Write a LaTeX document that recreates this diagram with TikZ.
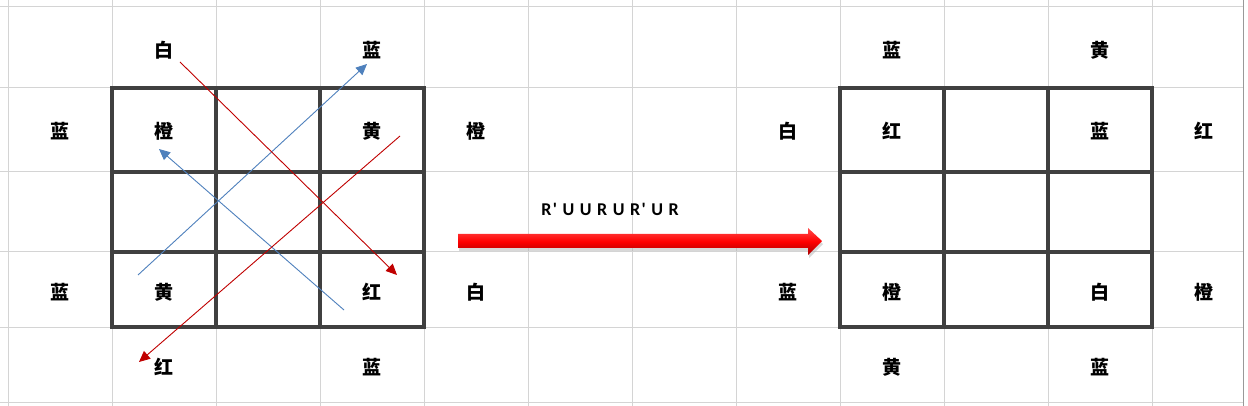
\documentclass[tikz,border=0pt]{standalone}
\usepackage{fontspec}
\usepackage{tikz}
\usetikzlibrary{arrows.meta}
\usetikzlibrary{shadings}
\newfontfamily\cjk{Noto Sans CJK SC}
\newfontfamily\movefont{Carlito}[LetterSpace=8]
\definecolor{sheetgray}{HTML}{D4D4D4}
\definecolor{cellgray}{HTML}{404040}
\definecolor{turnred}{HTML}{C00000}
\definecolor{turnblue}{HTML}{4F81BD}
\tikzset{
  face/.style={font=\cjk\bfseries\fontsize{19}{19}\selectfont, inner sep=0pt},
  sheet/.style={sheetgray, line width=1},
  cube/.style={cellgray, line width=3.2},
  redturn/.style={turnred, line width=0.9, -{Triangle[length=11,width=10]}},
  blueturn/.style={turnblue, line width=0.9, -{Triangle[length=11,width=10]}}
}

\begin{document}
\begin{tikzpicture}[x=1pt,y=-1pt]
\useasboundingbox (0,0) rectangle (1248,406);
\fill[white] (0,0) rectangle (1248,406);

% spreadsheet lines
\foreach \y in {7,88,172,252,327,402}
  \draw[sheet] (0,\y) -- (1243,\y);
\foreach \x in {8,112,216,320,424,528,632,736,840,944,1048,1152}
  \draw[sheet] (\x,0) -- (\x,406);
\draw[gray!80, line width=1] (1243,0) -- (1243,406);

% the two faces
\draw[cube] (112,88) rectangle (424,327);
\draw[cube] (216,88) -- (216,327) (320,88) -- (320,327);
\draw[cube] (112,172) -- (424,172) (112,252) -- (424,252);
\draw[cube] (840,88) rectangle (1152,327);
\draw[cube] (944,88) -- (944,327) (1048,88) -- (1048,327);
\draw[cube] (840,172) -- (1152,172) (840,252) -- (1152,252);

% before
\node[face] (btopl) at (164,50) {白};
\node[face] (btopr) at (372,50) {蓝};
\node[face] (bleftu) at (60,131) {蓝};
\node[face] (bleftd) at (60,292) {蓝};
\node[face] (bul) at (164,131) {橙};
\node[face] (bur) at (372,131) {黄};
\node[face] (bdl) at (164,292) {黄};
\node[face] (bdr) at (372,292) {红};
\node[face] (brightu) at (476,131) {橙};
\node[face] (brightd) at (476,292) {白};
\node[face] (bbotl) at (164,367) {红};
\node[face] (bbotr) at (372,367) {蓝};

% after
\node[face] (atopl) at (892,50) {蓝};
\node[face] (atopr) at (1100,50) {黄};
\node[face] (aleftu) at (788,131) {白};
\node[face] (aleftd) at (788,292) {蓝};
\node[face] (aul) at (892,131) {红};
\node[face] (aur) at (1100,131) {蓝};
\node[face] (adl) at (892,292) {橙};
\node[face] (adr) at (1100,292) {白};
\node[face] (arightu) at (1204,131) {红};
\node[face] (arightd) at (1204,292) {橙};
\node[face] (abotl) at (892,367) {黄};
\node[face] (abotr) at (1100,367) {蓝};

% swaps
\coordinate (r1s) at (180,62);
\coordinate (r1e) at (397,275);
\coordinate (r2s) at (400,136);
\coordinate (r2e) at (139,362);
\coordinate (b1s) at (138,275);
\coordinate (b1e) at (367,64);
\coordinate (b2s) at (344,310);
\coordinate (b2e) at (159,149);
\draw[blueturn] (b1s) -- (b1e);
\draw[blueturn] (b2s) -- (b2e);
\draw[redturn] (r1s) -- (r1e);
\draw[redturn] (r2s) -- (r2e);

% move arrow
\coordinate (mvs) at (458,241);
\coordinate (mve) at (822,241);
\fill[black!30, opacity=0.5] ([xshift=1,yshift=-3]mvs) ++(0,-7) -- ++(350,0) -- ++(0,-6)
  -- ([xshift=1,yshift=-3]mve) -- ++(-14,14) -- ++(0,-7) -- ++(-350,0) -- cycle;
\shade[top color=red!70!white, bottom color=red!65!black, middle color=red]
  (mvs) ++(0,-7) -- ++(350,0) -- ++(0,-6) -- (mve) -- ++(-14,14) -- ++(0,-7)
  -- ++(-350,0) -- cycle;
\node[font=\movefont\bfseries\fontsize{18}{18}\selectfont, inner sep=0pt] (moves) at (610,209) {R' U U R U R' U R};
\end{tikzpicture}
\end{document}
